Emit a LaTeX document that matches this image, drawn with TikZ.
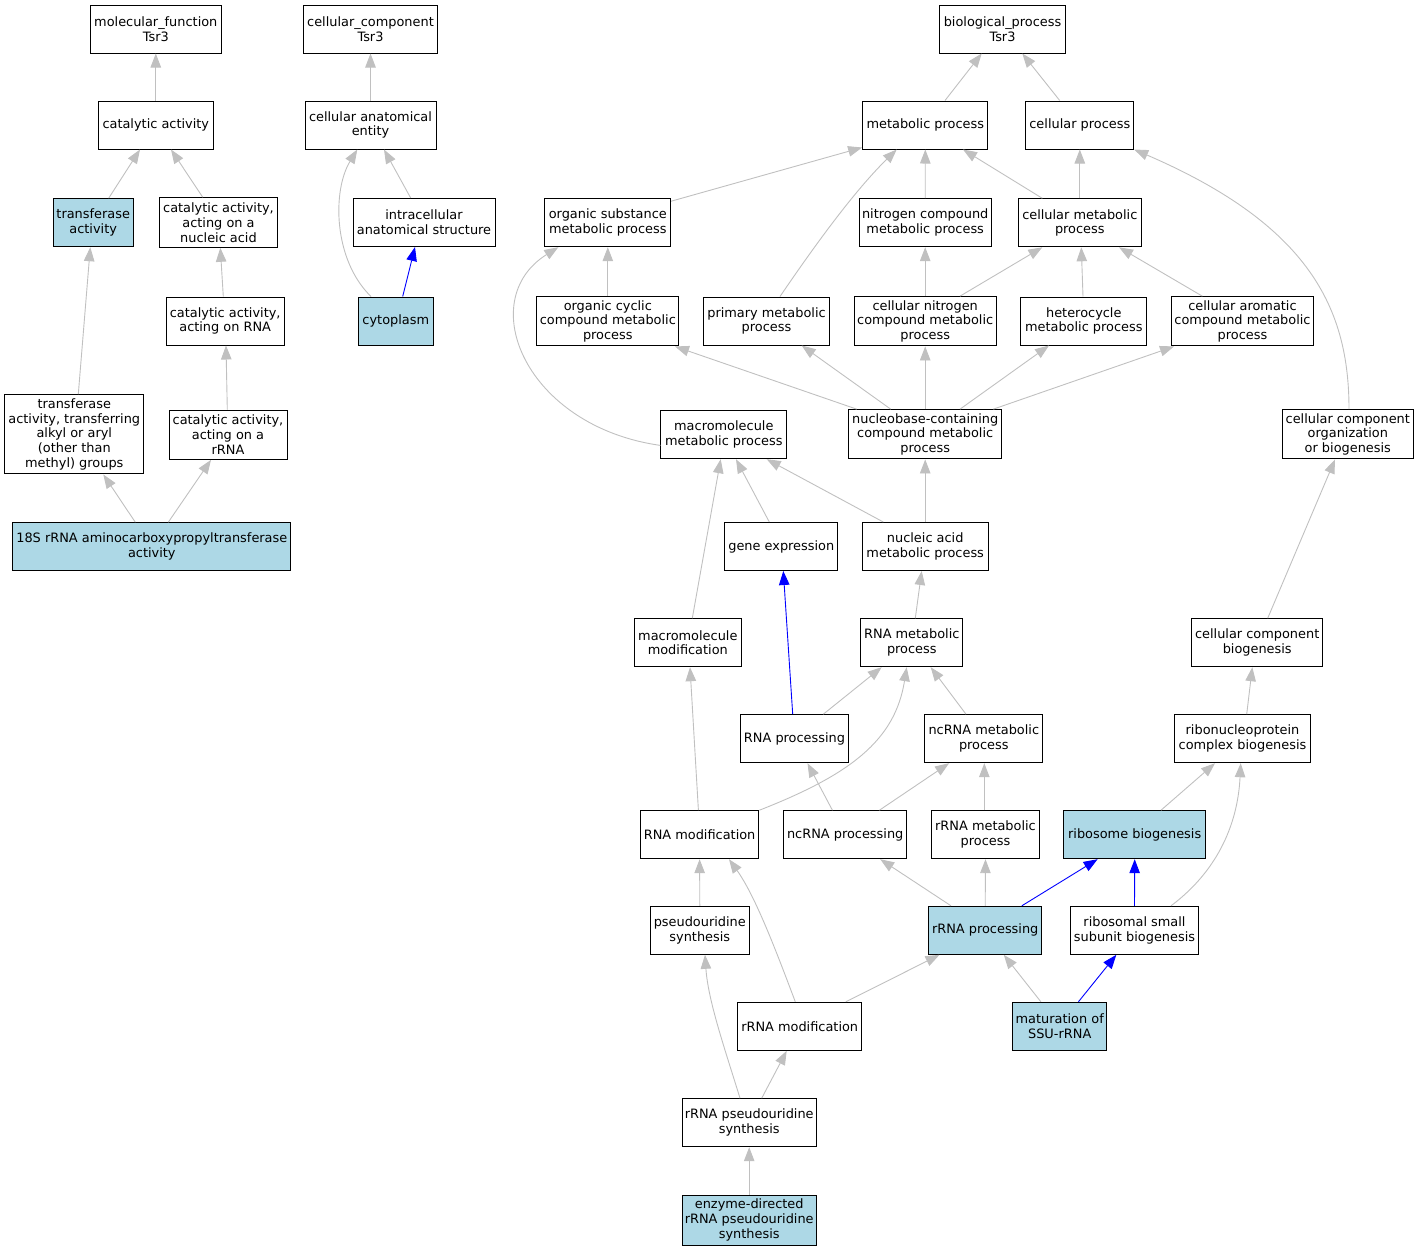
\documentclass[tikz,border=0pt]{standalone}
\usepackage{fontspec}
\setmainfont{DejaVu Sans}
\usetikzlibrary{arrows.meta}
\definecolor{edgegray}{RGB}{192,192,192}
\definecolor{hitblue}{RGB}{173,216,230}
\begin{document}
\begin{tikzpicture}[x=1pt,y=-1pt,
        go node/.style={rectangle,draw,line width=1pt,align=center,inner sep=0pt,
            minimum height=48pt,font=\fontsize{12.9}{14.7}\selectfont},
        hit node/.style={go node,fill=hitblue},
        is a/.style={-{Triangle[length=14pt,width=10.5pt]},draw=edgegray,line width=0.9pt},
        hit edge/.style={is a,draw=blue}]
    \useasboundingbox (0,0) rectangle (1419,1251);

    % molecular function
    \node[go node,minimum width=131pt] (mf) at (155.8,29) {molecular\_function\\Tsr3};
    \node[go node,minimum width=115pt] (cat) at (155.8,125) {catalytic activity};
    \node[hit node,minimum width=80pt] (tra) at (93.2,222.7) {transferase\\activity};
    \node[go node,minimum width=117.6pt,minimum height=49.6pt] (canu) at (218.5,222.5) {catalytic activity,\\acting on a\\nucleic acid};
    \node[go node,minimum width=117.7pt] (carna) at (225.2,321) {catalytic activity,\\acting on RNA};
    \node[go node,minimum width=139.3pt,minimum height=79.3pt] (trf) at (74.3,434.3) {transferase\\activity, transferring\\alkyl or aryl\\(other than\\methyl) groups};
    \node[go node,minimum width=118pt,minimum height=49.3pt] (carrna) at (228,434.7) {catalytic activity,\\acting on a\\rRNA};
    \node[hit node,minimum width=278.3pt] (acp) at (151.8,546.7) {18S rRNA aminocarboxypropyltransferase\\activity};

    % cellular component
    \node[go node,minimum width=134pt] (cc) at (370.5,29) {cellular\_component\\Tsr3};
    \node[go node,minimum width=131pt] (cae) at (370.5,125) {cellular anatomical\\entity};
    \node[go node,minimum width=142pt] (ias) at (424,222.5) {intracellular\\anatomical structure};
    \node[hit node,minimum width=75pt] (cyto) at (395.8,321) {cytoplasm};

    % biological process
    \node[go node,minimum width=126.4pt] (bp) at (1002.5,29) {biological\_process\\Tsr3};
    \node[go node,minimum width=125.3pt] (mp) at (925.3,125) {metabolic process};
    \node[go node,minimum width=107.7pt] (cp) at (1079.8,125) {cellular process};
    \node[go node,minimum width=125.7pt] (osm) at (607.8,222.7) {organic substance\\metabolic process};
    \node[go node,minimum width=131.7pt] (ncm) at (925.2,222.7) {nitrogen compound\\metabolic process};
    \node[go node,minimum width=123pt] (cmp) at (1079.8,222.8) {cellular metabolic\\process};
    \node[go node,minimum width=142.3pt,minimum height=49.3pt] (occm) at (607.8,321.3) {organic cyclic\\compound metabolic\\process};
    \node[go node,minimum width=126.3pt] (pmp) at (766.5,321) {primary metabolic\\process};
    \node[go node,minimum width=142.3pt,minimum height=49.3pt] (cncm) at (925.2,321.3) {cellular nitrogen\\compound metabolic\\process};
    \node[go node,minimum width=125.7pt] (hmp) at (1083.8,321) {heterocycle\\metabolic process};
    \node[go node,minimum width=142.3pt,minimum height=49.3pt] (cacm) at (1242.5,321.3) {cellular aromatic\\compound metabolic\\process};
    \node[go node,minimum width=125.7pt] (mmp) at (723.8,434.7) {macromolecule\\metabolic process};
    \node[go node,minimum width=153pt,minimum height=49.3pt] (nbc) at (925.2,434.3) {nucleobase-containing\\compound metabolic\\process};
    \node[go node,minimum width=131pt,minimum height=49.3pt] (ccob) at (1347.8,434.3) {cellular component\\organization\\or biogenesis};
    \node[go node,minimum width=112.7pt] (ge) at (781.3,546.5) {gene expression};
    \node[go node,minimum width=125.7pt] (nam) at (925.2,546.5) {nucleic acid\\metabolic process};
    \node[go node,minimum width=107pt] (mmod) at (687.8,642.7) {macromolecule\\modification};
    \node[go node,minimum width=102.3pt] (rmp) at (911.8,642.7) {RNA metabolic\\process};
    \node[go node,minimum width=131pt] (ccb) at (1257.2,642.7) {cellular component\\biogenesis};
    \node[go node,minimum width=107.7pt] (rproc) at (794.5,738.7) {RNA processing};
    \node[go node,minimum width=118.3pt] (ncmp) at (983.8,738.7) {ncRNA metabolic\\process};
    \node[go node,minimum width=136.3pt] (rnpb) at (1242.5,738.7) {ribonucleoprotein\\complex biogenesis};
    \node[go node,minimum width=118.6pt] (rmod) at (699.6,834.7) {RNA modification};
    \node[go node,minimum width=122.8pt] (ncproc) at (845.2,834.7) {ncRNA processing};
    \node[go node,minimum width=108pt] (rrmp) at (985.5,834.7) {rRNA metabolic\\process};
    \node[hit node,minimum width=141.7pt] (ribo) at (1134.7,834.7) {ribosome biogenesis};
    \node[go node,minimum width=99pt] (psu) at (699.8,930.3) {pseudouridine\\synthesis};
    \node[hit node,minimum width=112.9pt] (rrproc) at (985.2,930.3) {rRNA processing};
    \node[go node,minimum width=128.2pt] (ssu) at (1134.5,930.3) {ribosomal small\\subunit biogenesis};
    \node[go node,minimum width=123.6pt] (rrmod) at (799.7,1026.3) {rRNA modification};
    \node[hit node,minimum width=94pt] (mat) at (1059.7,1026.3) {maturation of\\SSU-rRNA};
    \node[go node,minimum width=134.3pt] (rpsu) at (749.2,1122.7) {rRNA pseudouridine\\synthesis};
    \node[hit node,minimum width=134.3pt,minimum height=50pt] (edps) at (749.2,1220) {enzyme-directed\\rRNA pseudouridine\\synthesis};

    \path[every edge/.style={is a}]
    (cat.north) edge (mf.south)
    ([xshift=15.5]tra.north) edge ([xshift=-15.8]cat.south)
    ([xshift=-15.8]canu.north) edge ([xshift=15.2]cat.south)
    ([xshift=4]trf.north) edge ([xshift=-2.9]tra.south)
    ([xshift=-1.9]carna.north) edge ([xshift=1.8]canu.south)
    ([xshift=-0.7]carrna.north) edge ([xshift=0.8]carna.south)
    ([xshift=-16.5]acp.north) edge ([xshift=29]trf.south)
    ([xshift=16.5]acp.north) edge ([xshift=-17]carrna.south)
    (cae.north) edge (cc.south)
    ([xshift=-13.3]ias.north) edge ([xshift=13.5]cae.south)
    ([xshift=19.7]mp.north) edge ([xshift=-20.8]bp.south)
    ([xshift=-20.1]cp.north) edge ([xshift=19.8]bp.south)
    ([yshift=-3]osm.north east) edge ([yshift=2]mp.south west)
    (ncm.north) edge (mp.south)
    ([xshift=-37.5]cmp.north) edge ([xshift=37.7]mp.south)
    (cmp.north) edge (cp.south)
    (occm.north) edge (osm.south)
    ([xshift=-68.5]nbc.north) edge ([xshift=67.2]occm.south)
    ([xshift=-34.5]nbc.north) edge ([xshift=35.2]pmp.south)
    (nbc.north) edge (cncm.south)
    ([xshift=34.8]nbc.north) edge ([xshift=-34.8]hmp.south)
    ([xshift=68.1]nbc.north) edge ([xshift=-68.5]cacm.south)
    ([xshift=34.8]cncm.north) edge ([xshift=-37.5]cmp.south)
    (cncm.north) edge (ncm.south)
    ([xshift=-0.8]hmp.north) edge ([xshift=1.5]cmp.south)
    ([xshift=-40.2]cacm.north) edge ([xshift=39.2]cmp.south)
    (nam.north) edge (nbc.south)
    ([xshift=-41.9]nam.north) edge ([xshift=42.9]mmp.south)
    ([xshift=-12]ge.north) edge ([xshift=12.2]mmp.south)
    ([xshift=4.5]mmod.north) edge ([xshift=-3.1]mmp.south)
    ([xshift=3.5]rmp.north) edge ([xshift=-3.5]nam.south)
    ([xshift=28.8]rproc.north) edge ([xshift=-30.1]rmp.south)
    ([xshift=-17.8]ncmp.north) edge ([xshift=18.9]rmp.south)
    ([xshift=-1.2]rmod.north) edge ([xshift=2.2]mmod.south)
    ([xshift=-12.8]ncproc.north) edge ([xshift=13]rproc.south)
    ([xshift=34.2]ncproc.north) edge ([xshift=-34.7]ncmp.south)
    ([xshift=-1.2]rrmp.north) edge ([xshift=0.5]ncmp.south)
    ([xshift=26.3]ribo.north) edge ([xshift=-27.5]rnpb.south)
    ([xshift=4.2]rnpb.north) edge ([xshift=-4.9]ccb.south)
    ([xshift=10.5]ccb.north) edge ([xshift=-12.8]ccob.south)
    (psu.north) edge (rmod.south)
    ([xshift=-34.2]rrproc.north) edge ([xshift=35]ncproc.south)
    (rrproc.north) edge (rrmp.south)
    ([xshift=46.1]rrmod.north) edge ([xshift=-45.7]rrproc.south)
    ([xshift=-18.8]mat.north) edge ([xshift=18.6]rrproc.south)
    ([xshift=12.5]rpsu.north) edge ([xshift=-13]rrmod.south)
    (edps.north) edge (rpsu.south);

    % curved ones
    \draw[is a] ([xshift=-24.8]cyto.north) .. controls +(-38,-37) and +(-25,40.7) .. ([xshift=-13.2]cae.south);
    \draw[is a] ([xshift=13.5]pmp.north) .. controls +(25,-36.7) and +(-46.7,45.7) .. ([xshift=-28.6]mp.south);
    \draw[is a] ([xshift=1.2]ccob.north) .. controls +(0,-99.7) and +(176.3,76) .. (cp.south east);
    \draw[is a] ([yshift=-10.7]mmp.west) .. controls +(-135,-19) and +(-85,53.3) .. ([xshift=-49.5]osm.south);
    \draw[is a] (rmod.north east) .. controls +(91,-35.7) and +(-11.7,73.3) .. ([xshift=-5.1]rmp.south);
    \draw[is a] ([xshift=36.5]ssu.north) .. controls +(49,-36.7) and +(-2.7,57.3) .. ([xshift=-1.8]rnpb.south);
    \draw[is a] ([xshift=-4.4]rrmod.north) .. controls +(-19.7,-52.3) and +(26,36.3) .. ([xshift=29.4]rmod.south);
    \draw[is a] ([xshift=-9.2]rpsu.north) .. controls +(-15,-48.7) and +(3,45.7) .. ([xshift=5.2]psu.south);

    \path[every edge/.style={hit edge}]
    ([xshift=6.9]cyto.north) edge ([xshift=-9]ias.south)
    ([xshift=-1.8]rproc.north) edge ([xshift=2]ge.south)
    ([xshift=36.6]rrproc.north) edge ([xshift=-37.1]ribo.south)
    (ssu.north) edge (ribo.south)
    ([xshift=18.7]mat.north) edge ([xshift=-18.2]ssu.south);
\end{tikzpicture}
\end{document}
